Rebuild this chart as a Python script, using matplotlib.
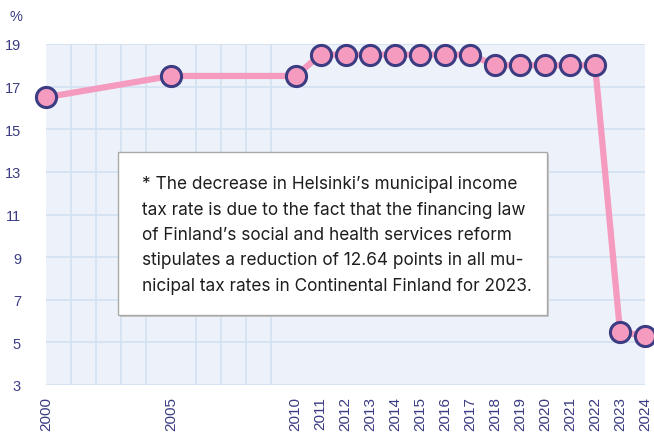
import matplotlib
matplotlib.use("Agg")
import matplotlib.pyplot as plt
from matplotlib.patches import Rectangle

years = [2000, 2005, 2010, 2011, 2012, 2013, 2014, 2015, 2016, 2017,
         2018, 2019, 2020, 2021, 2022, 2023, 2024]
rates = [16.5, 17.5, 17.5, 18.5, 18.5, 18.5, 18.5, 18.5, 18.5, 18.5,
         18.0, 18.0, 18.0, 18.0, 18.0, 5.5, 5.3]
yticks = [3, 5, 7, 9, 11, 13, 15, 17, 19]
note = ("* The decrease in Helsinki\u2019s municipal income\n"
        "tax rate is due to the fact that the financing law\n"
        "of Finland\u2019s social and health services reform\n"
        "stipulates a reduction of 12.64 points in all mu-\n"
        "nicipal tax rates in Continental Finland for 2023.")

W, H = 654, 435
NAVY = "#3b3c82"
PINK = "#f59bc0"
BG = "#edf2fa"
GRID = "#d2e1f1"

fig = plt.figure(figsize=(W / 100, H / 100), dpi=100)
ax = fig.add_axes([46 / W, 1 - 386 / H, (645 - 46) / W, (386 - 45) / H])
ax.set_facecolor(BG)
ax.set_xlim(2000, 2024)
ax.set_ylim(3, 19)

ax.set_xticks(list(range(2000, 2025)), minor=True)
ax.set_xticks(years)
ax.set_xticklabels([str(y) for y in years], rotation=90, fontsize=11,
                   family="Liberation Sans", color=NAVY)
ax.set_yticks(yticks)
ax.set_yticklabels([str(v) for v in yticks], fontsize=10.5,
                   family="Liberation Sans", color=NAVY)
ax.tick_params(axis="both", which="both", length=0)
ax.tick_params(axis="y", pad=18)
ax.tick_params(axis="x", pad=8)
ax.grid(True, axis="x", which="minor", color=GRID, lw=1.2)
ax.grid(True, axis="y", which="major", color=GRID, lw=1.2)
ax.set_axisbelow(True)
for s in ax.spines.values():
    s.set_visible(False)

ax.plot(years, rates, color=PINK, lw=4.5, marker="o", markersize=14.5,
        markerfacecolor=PINK, markeredgecolor=NAVY, markeredgewidth=2.2,
        clip_on=False, zorder=3)

fig.text(10 / W, 1 - 17 / H, "%", fontsize=10.5, family="Liberation Sans",
         color=NAVY, va="center", ha="left")

# note box
bx0, by0, bx1, by1 = 118, 153, 547, 316
fig.add_artist(Rectangle(((bx0 + 2) / W, 1 - (by1 + 2) / H), (bx1 - bx0) / W,
                         (by1 - by0) / H, transform=fig.transFigure,
                         facecolor="#c8c8c8", edgecolor="none", zorder=4))
fig.add_artist(Rectangle((bx0 / W, 1 - by1 / H), (bx1 - bx0) / W,
                         (by1 - by0) / H, transform=fig.transFigure,
                         facecolor="white", edgecolor="#a9a9a9", lw=1.0, zorder=5))
fig.text(142 / W, 1 - 235.5 / H, note, fontsize=12.4, family="Inter",
         color="#1e1e1e", va="center", ha="left", linespacing=1.64, zorder=6)

fig.savefig("out.png", dpi=100)
